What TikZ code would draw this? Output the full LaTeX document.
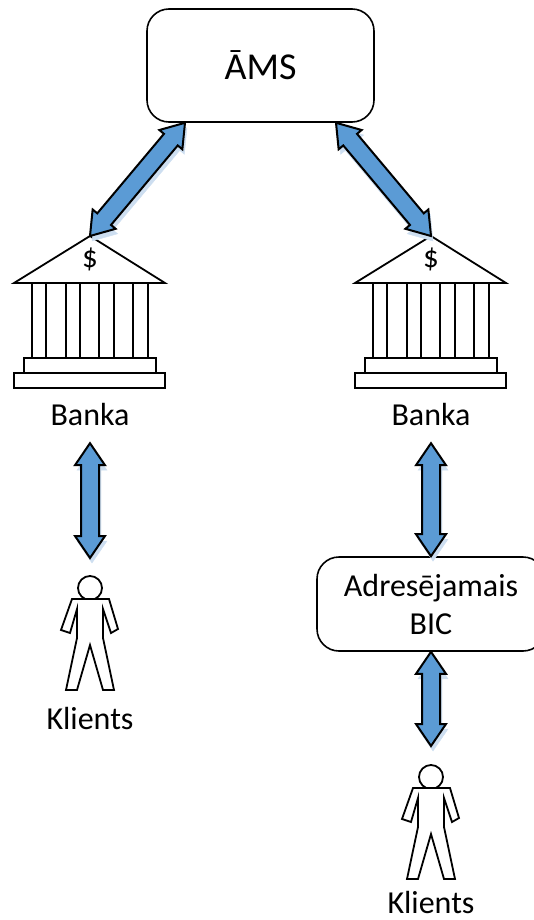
\documentclass[tikz,border=0pt]{standalone}
\usepackage{fontspec}
\setmainfont{Carlito}
\usetikzlibrary{calc,shadows}
\definecolor{arrowblue}{RGB}{91,155,213}
\definecolor{shadowblue}{RGB}{205,222,240}
\tikzstyle{Box}=[rectangle, rounded corners=22, draw=black, line width=1.6, align=center, inner sep=0]
\tikzstyle{Caption}=[inner sep=0, minimum width=90, minimum height=56, font=\fontsize{32}{38}\selectfont]
\tikzstyle{Arrow}=[fill=arrowblue, draw=black, line width=2, line join=miter, copy shadow={shadow xshift=2pt, shadow yshift=-5pt, fill=shadowblue, draw=shadowblue}]
\tikzstyle{Outline}=[draw=black, line width=1.8, fill=white]
\newcommand{\blockarrow}[2]{
    \coordinate (h1) at ($(#1)!22pt!(#2)$);
    \coordinate (h2) at ($(#2)!22pt!(#1)$);
    \draw[Arrow] (#1)
    -- ($(h1)!15pt!90:(#1)$) -- ($(h1)!9pt!90:(#1)$)
    -- ($(h2)!9pt!90:(#1)$) -- ($(h2)!15pt!90:(#1)$)
    -- (#2)
    -- ($(h2)!15pt!-90:(#1)$) -- ($(h2)!9pt!-90:(#1)$)
    -- ($(h1)!9pt!-90:(#1)$) -- ($(h1)!15pt!-90:(#1)$)
    -- cycle;
}
\tikzset{
    bank/.pic={
        \coordinate (-top) at (0,0);
        \draw[Outline] (-76,47) -- (0,0) -- (75,47) -- cycle;
        \foreach \col in {-58,-44,-24,-10,9,24,43,58}
            \draw[Outline] (\col,47) -- (\col,122);
        \draw[Outline] (-66,122) rectangle (66,137);
        \draw[Outline] (-76,137) rectangle (75,152);
        \node[font=\fontsize{31}{36}\selectfont] (-sign) at (0,23) {\$};
    },
    client/.pic={
        \coordinate (-top) at (0,-12);
        \draw[Outline] (0,0) circle (12);
        \draw[Outline, line join=miter] (-18,11) -- (-29,42) -- (-20,45) -- (-13,21) -- (-13,50)
        -- (-24,102) -- (-13,102) -- (0,57) -- (13,102) -- (24,102) -- (13,50)
        -- (13,21) -- (21,45) -- (28,41) -- (19,11) -- cycle;
    }
}

\begin{document}
\begin{tikzpicture}[x=1pt, y=-1pt]
    \clip (0,0) rectangle (534,920);
    \path
    (260.5,65.5) node[Box, minimum width=227, minimum height=113, font=\fontsize{38}{44}\selectfont] (ams) {ĀMS}
    (431,604) node[Box, minimum width=228, minimum height=94, font=\fontsize{32}{38}\selectfont] (bic) {Adresējamais\\BIC};

    \path
    (90,415) node[Caption] (leftbank) {Banka}
    (431,415) node[Caption] (rightbank) {Banka}
    (90,718) node[Caption, minimum height=40] (leftclient) {Klients}
    (431,902) node[Caption, minimum height=30] (rightclient) {Klients};

    \pic (bankL) at (90,236) {bank};
    \pic (bankR) at (431,236) {bank};
    \pic (clientL) at (90,588) {client};
    \pic (clientR) at (431,777) {client};

    \coordinate (amsL) at ($(ams.south)+(-75.5,0)$);
    \coordinate (amsR) at ($(ams.south)+(75.5,0)$);
    \coordinate (clientLend) at ($(clientL-top)+(0,-18)$);
    \coordinate (clientRend) at ($(clientR-top)+(0,-19)$);

    \blockarrow{amsL}{bankL-top}
    \blockarrow{amsR}{bankR-top}
    \blockarrow{leftbank.south}{clientLend}
    \blockarrow{rightbank.south}{bic.north}
    \blockarrow{bic.south}{clientRend}
\end{tikzpicture}
\end{document}
